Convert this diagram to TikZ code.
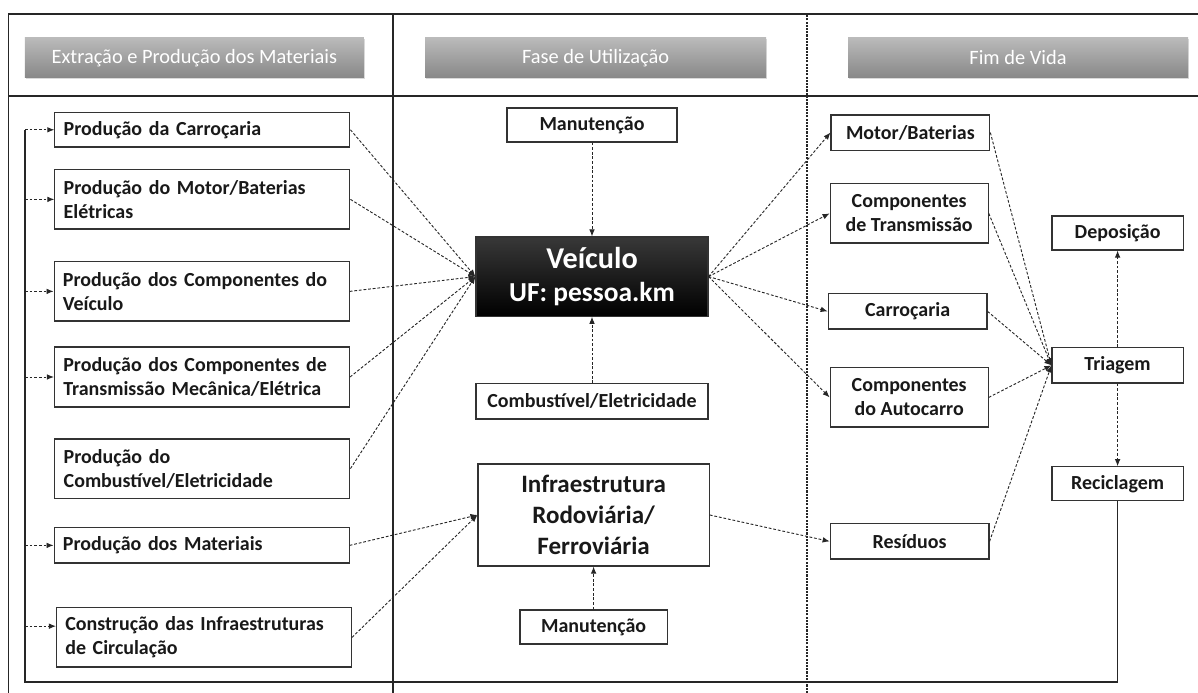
\documentclass[tikz,border=0pt]{standalone}
\usepackage{fontspec}
\setmainfont{Carlito}
\usetikzlibrary{arrows.meta,shadows}

\begin{document}
\begin{tikzpicture}[
            box/.style={rectangle, draw=black!80, line width=0.8pt, fill=white, text=black!90, font=\bfseries\fontsize{14.2}{17}\selectfont, inner xsep=0.22cm, inner ysep=2pt},
            lbox/.style={box, text width=6.935cm, align=left},
            cbox/.style={box, align=center},
            header/.style={rectangle, minimum height=1cm, top color=black!27, bottom color=black!47, text=white, font=\fontsize{14.5}{17}\selectfont, drop shadow={opacity=0.3, shadow xshift=0.6pt, shadow yshift=-0.9pt}},
            frame/.style={line width=0.9pt, black!85},
            arrow/.style={-{Latex[length=5pt,width=4pt]}, line width=0.65pt, black!85, dash pattern=on 2pt off 1.3pt},
            loopline/.style={line width=0.8pt, black!85}
        ]
            \useasboundingbox (0,0) rectangle (29.95,17.325);

            % Frame and columns
            \draw[frame] (0.21,0) -- (0.21,16.975) -- (29.95,16.975);
            \draw[frame] (0.21,14.925) -- (29.95,14.925);
            \draw[frame] (9.825,0) -- (9.825,16.975);
            \draw[frame, dash pattern=on 1.5pt off 0.8pt] (20.175,0) -- (20.175,16.975);

            % Headers
            \node[header, minimum width=8.475cm] (hextr) at (4.86,15.875) {Extração e Produção dos Materiais};
            \node[header, minimum width=8.525cm] (hutil) at (14.89,15.875) {Fase de Utilização};
            \node[header, minimum width=8.5cm] (hfim) at (25.45,15.875) {Fim de Vida};

            % Extraction and production
            \node[lbox, minimum height=0.86cm] (carr) at (5.06,14.08) {Produção da Carroçaria};
            \node[lbox, minimum height=1.48cm] (motbat) at (5.06,12.34) {Produção do Motor/Baterias\\Elétricas};
            \node[lbox, minimum height=1.48cm] (compv) at (5.04,10.04) {Produção dos Componentes do\\Veículo};
            \node[lbox, minimum height=1.5cm] (transm) at (5.05,7.9) {Produção dos Componentes de\\Transmissão Mecânica/Elétrica};
            \node[lbox, minimum height=1.48cm] (prodcomb) at (5.06,5.61) {Produção do\\Combustível/Eletricidade};
            \node[lbox, minimum height=0.88cm] (mat) at (5.04,3.69) {Produção dos Materiais};
            \node[lbox, minimum height=1.48cm] (constr) at (5.1,1.39) {Construção das Infraestruturas\\de Circulação};

            % Use phase
            \node[cbox, minimum width=4.25cm, minimum height=0.85cm] (manveic) at (14.8,14.2) {Manutenção};
            \node[cbox, minimum width=5.8cm, minimum height=1.98cm, top color=black!78, bottom color=black, text=white, font=\bfseries\fontsize{19.5}{23}\selectfont] (veic) at (14.8,10.41) {{\fontsize{21.5}{24}\selectfont Veículo}\\UF: pessoa.km};
            \node[cbox, minimum width=5.8cm, minimum height=0.88cm] (combveic) at (14.8,7.29) {Combustível/Eletricidade};
            \node[cbox, minimum width=5.78cm, minimum height=2.55cm, font=\bfseries\fontsize{17.8}{22}\selectfont] (infra) at (14.84,4.45) {Infraestrutura\\Rodoviária/\\Ferroviária};
            \node[cbox, minimum width=3.68cm, minimum height=0.85cm] (maninfra) at (14.84,1.65) {Manutenção};

            % End of life
            \node[cbox, minimum width=3.97cm, minimum height=0.88cm] (fmotor) at (22.76,14.01) {Motor/Baterias};
            \node[cbox, minimum width=3.95cm, minimum height=1.48cm] (ftrans) at (22.73,11.99) {Componentes\\de Transmissão};
            \node[cbox, minimum width=3.97cm, minimum height=0.88cm] (fcarr) at (22.69,9.54) {Carroçaria};
            \node[cbox, minimum width=3.95cm, minimum height=1.48cm] (fauto) at (22.73,7.39) {Componentes\\do Autocarro};
            \node[cbox, minimum width=3.97cm, minimum height=0.88cm] (fresid) at (22.74,3.79) {Resíduos};
            \node[cbox, minimum width=3.28cm, minimum height=0.85cm] (depos) at (27.94,11.5) {Deposição};
            \node[cbox, minimum width=3.28cm, minimum height=0.88cm] (triag) at (27.94,8.19) {Triagem};
            \node[cbox, minimum width=3.28cm, minimum height=0.85cm] (recic) at (27.94,5.23) {Reciclagem};

            % Connections into the vehicle
            \draw[arrow] (carr.east) -- (veic.west);
            \draw[arrow] (motbat.east) -- (veic.west);
            \draw[arrow] (compv.east) -- (veic.west);
            \draw[arrow] (transm.east) -- (veic.west);
            \draw[arrow] (prodcomb.east) -- (veic.west);
            \draw[arrow] (manveic) -- (veic);
            \draw[arrow] (combveic) -- (veic);

            % Connections into the infrastructure
            \draw[arrow] (mat.east) -- (infra.west);
            \draw[arrow] (constr.east) -- (infra.west);
            \draw[arrow] (maninfra) -- (infra);

            % Vehicle and infrastructure to end of life
            \draw[arrow] (veic.east) -- (fmotor.west);
            \draw[arrow] (veic.east) -- (ftrans.west);
            \draw[arrow] (veic.east) -- (fcarr.west);
            \draw[arrow] (veic.east) -- (fauto.west);
            \draw[arrow] (infra.east) -- (fresid.west);

            % Sorting
            \draw[arrow] (fmotor.east) -- (triag.west);
            \draw[arrow] (ftrans.east) -- (triag.west);
            \draw[arrow] (fcarr.east) -- (triag.west);
            \draw[arrow] (fauto.east) -- (triag.west);
            \draw[arrow] (fresid.east) -- (triag.west);
            \draw[arrow] (triag) -- (depos);
            \draw[arrow] (triag) -- (recic);

            % Recycling loop
            \coordinate (lpb) at (0.625,0.275);
            \coordinate (cin) at ([yshift=0.28cm]constr.west);
            \draw[loopline] (recic.south) |- (lpb) -- (lpb |- carr.west);
            \draw[arrow] (lpb |- carr.west) -- (carr.west);
            \draw[arrow] (lpb |- motbat.west) -- (motbat.west);
            \draw[arrow] (lpb |- compv.west) -- (compv.west);
            \draw[arrow] (lpb |- transm.west) -- (transm.west);
            \draw[arrow] (lpb |- mat.west) -- (mat.west);
            \draw[arrow] (lpb |- cin) -- (cin);

        \end{tikzpicture}
\end{document}
